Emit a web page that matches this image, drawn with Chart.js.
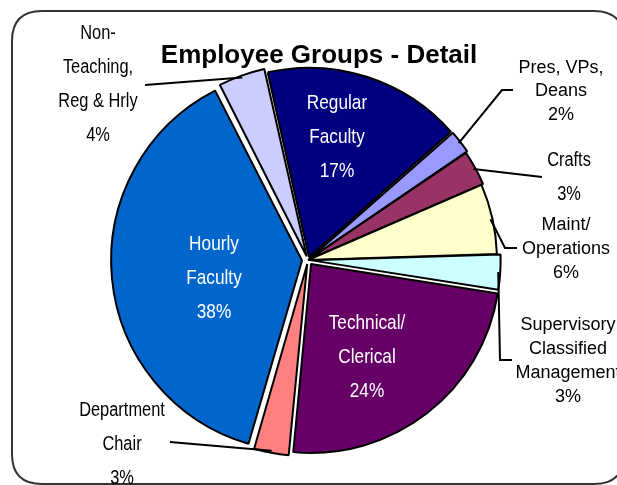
<!DOCTYPE html>
<html>
<head>
<meta charset="utf-8">
<script src="https://cdn.jsdelivr.net/npm/chart.js@4/dist/chart.umd.min.js"></script>
<style>
  html, body { margin: 0; padding: 0; background: #fff; }
  #wrap { width: 617px; height: 485px; }
</style>
</head>
<body>
<div id="wrap"><canvas id="groups" width="617" height="485"></canvas></div>
<script>
(function (glob) {
  'use strict';

  // values (percent of employees)
  const categories = ['Regular Faculty', 'Pres, VPs, Deans', 'Crafts', 'Maint/ Operations',
    'Supervisory Classified Management', 'Technical/ Clerical', 'Department Chair',
    'Hourly Faculty', 'Non-Teaching, Reg & Hrly'];
  const percents = [17, 2, 3, 6, 3, 24, 3, 38, 4];
  const labelLines = [
    ['Regular', 'Faculty'],
    ['Pres, VPs,', 'Deans'],
    ['Crafts'],
    ['Maint/', 'Operations'],
    ['Supervisory', 'Classified', 'Management'],
    ['Technical/', 'Clerical'],
    ['Department', 'Chair'],
    ['Hourly', 'Faculty'],
    ['Non-', 'Teaching,', 'Reg & Hrly']
  ];
  const colors = ['#000080', '#9999FF', '#993366', '#FFFFCC', '#CCFFFF',
    '#660066', '#FF8080', '#0066CC', '#CCCCFF'];
  // Chart.js v4 moves an arc by offset/4 px
  const offsets = [12, 8, 4, 0, 8, 20, 16, 24, 16];

  // where each label sits: centre x, first line y, line step, font, colour, leader bends
  const placing = [
    {x: 337, y: 103, dy: 34, narrow: true, size: 21, color: '#fff'},
    {x: 561, y: 68, dy: 23.5, narrow: false, size: 18, color: '#000', lead: [[502, 90], [513, 90]]},
    {x: 569, y: 160, dy: 34, narrow: true, size: 20, color: '#000', lead: [[542, 177]]},
    {x: 566, y: 225, dy: 24, narrow: false, size: 18, color: '#000', lead: [[505, 248], [517, 248]]},
    {x: 568, y: 325, dy: 24, narrow: false, size: 18, color: '#000', lead: [[500, 360], [512, 360]]},
    {x: 367, y: 323, dy: 34, narrow: true, size: 21, color: '#fff'},
    {x: 122, y: 410, dy: 34, narrow: true, size: 20, color: '#000', lead: [[170, 442]]},
    {x: 214, y: 244, dy: 34, narrow: true, size: 21, color: '#fff'},
    {x: 98, y: 33, dy: 34, narrow: true, size: 20, color: '#000', lead: [[145, 85]]}
  ];

  const canvas = document.getElementById('groups');

  function fontInstalled(ctx, name) {
    ctx.font = '40px monospace';
    const a = ctx.measureText('abcdefghijklmnopqrstuvwxyz').width;
    ctx.font = "40px '" + name + "', monospace";
    const b = ctx.measureText('abcdefghijklmnopqrstuvwxyz').width;
    return a !== b;
  }
  const hasNarrow = fontInstalled(canvas.getContext('2d'), 'Liberation Sans Narrow');

  function drawText(ctx, txt, x, y, p) {
    ctx.save();
    ctx.fillStyle = p.color;
    ctx.textAlign = 'center';
    ctx.textBaseline = 'middle';
    if (p.narrow && hasNarrow) {
      ctx.font = p.size + "px 'Liberation Sans Narrow'";
      ctx.fillText(txt, x, y);
    } else if (p.narrow) {
      ctx.font = p.size + "px 'Liberation Sans', Arial, sans-serif";
      ctx.translate(x, y);
      ctx.scale(0.82, 1);
      ctx.fillText(txt, 0, 0);
    } else {
      ctx.font = p.size + "px 'Liberation Sans', Arial, sans-serif";
      ctx.fillText(txt, x, y);
    }
    ctx.restore();
  }

  function roundRect(ctx, x, y, w, h, r) {
    ctx.beginPath();
    ctx.moveTo(x + r, y);
    ctx.lineTo(x + w - r, y);
    ctx.quadraticCurveTo(x + w, y, x + w, y + r);
    ctx.lineTo(x + w, y + h - r);
    ctx.quadraticCurveTo(x + w, y + h, x + w - r, y + h);
    ctx.lineTo(x + r, y + h);
    ctx.quadraticCurveTo(x, y + h, x, y + h - r);
    ctx.lineTo(x, y + r);
    ctx.quadraticCurveTo(x, y, x + r, y);
    ctx.closePath();
  }

  const decor = {
    id: 'decor',
    beforeDraw(chart) {
      const ctx = chart.ctx;
      ctx.save();
      ctx.strokeStyle = '#333';
      ctx.lineWidth = 2;
      roundRect(ctx, 12, 11, 612, 473, 30);
      ctx.stroke();
      ctx.restore();
    },
    afterDraw(chart) {
      const ctx = chart.ctx;
      const meta = chart.getDatasetMeta(0);
      meta.data.forEach((arc, i) => {
        const p = placing[i];
        const lines = labelLines[i].concat([percents[i] + '%']);
        lines.forEach((t, k) => drawText(ctx, t, p.x, p.y + k * p.dy, p));
        if (p.lead) {
          const mid = (arc.startAngle + arc.endAngle) / 2;
          const shift = offsets[i] / 4;
          const fix = 1 - Math.sin(Math.min(Math.PI, arc.circumference));
          const r = arc.outerRadius + shift * (1 + fix) - 2;
          ctx.save();
          ctx.strokeStyle = '#000';
          ctx.lineWidth = 2;
          ctx.beginPath();
          ctx.moveTo(arc.x + Math.cos(mid) * r, arc.y + Math.sin(mid) * r);
          p.lead.forEach(pt => ctx.lineTo(pt[0], pt[1]));
          ctx.stroke();
          ctx.restore();
        }
      });
      // title
      ctx.save();
      ctx.fillStyle = '#000';
      ctx.font = "bold 26px 'Liberation Sans', Arial, sans-serif";
      ctx.textAlign = 'center';
      ctx.textBaseline = 'alphabetic';
      ctx.fillText('Employee Groups - Detail', 319, 63);
      ctx.restore();
    }
  };

  glob.chart = new Chart(canvas, {
    type: 'pie',
    data: {
      labels: categories,
      datasets: [{
        data: percents,
        backgroundColor: colors,
        borderColor: '#000',
        borderWidth: 2,
        offset: offsets,
        radius: 189
      }]
    },
    options: {
      responsive: false,
      animation: false,
      rotation: -12.6,
      layout: {padding: {left: 0, right: 1, top: 35, bottom: 0}},
      plugins: {legend: {display: false}, tooltip: {enabled: false}}
    },
    plugins: [decor]
  });
}(typeof window !== 'undefined' ? window : global));
</script>
</body>
</html>
